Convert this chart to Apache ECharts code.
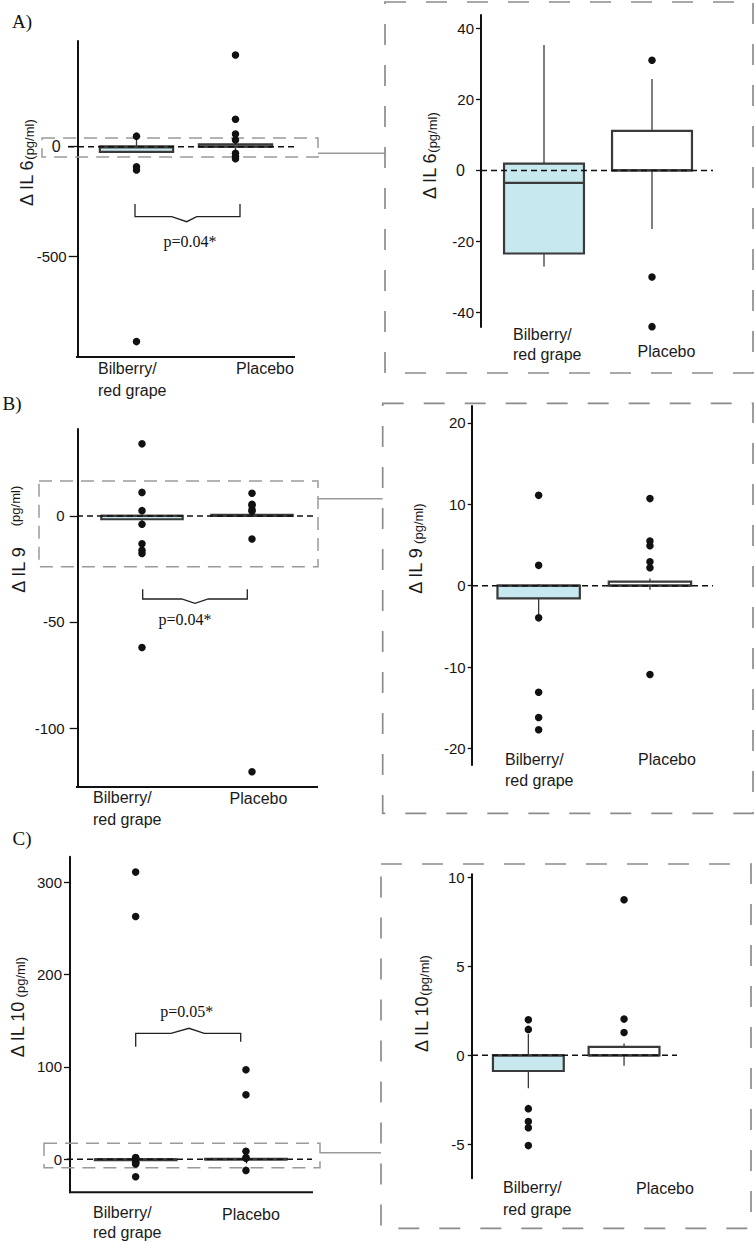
<!DOCTYPE html>
<html><head><meta charset="utf-8">
<script src="https://cdn.jsdelivr.net/npm/echarts@6/dist/echarts.min.js"></script>
<style>html,body{margin:0;padding:0;background:#fff}#c{width:755px;height:1241px}</style>
</head><body><div id="c"></div>
<script>
// ---------- data ----------
const categories = ['Bilberry/\nred grape', 'Placebo'];
// box statistics per group: [min, Q1, median, Q3, max]
const il6Box  = [[-27.1, -23.4, -3.5, 1.9, 35.3], [-16.5, 0, 0, 11.1, 25.7]];
const il9Box  = [[-3.6, -1.55, 0, 0, 0.2], [-0.5, 0, 0, 0.5, 0.9]];
const il10Box = [[-1.85, -0.88, 0, 0, 1.2], [-0.58, 0, 0, 0.48, 0.67]];
// outliers per group
const il6OutBilberry  = [48, -91, -106, -886];
const il6OutPlacebo   = [417, 125, 58, 31, -30, -44, -55];
const il9OutBilberry  = [34, 11.1, 2.5, -3.95, -13.1, -16.2, -17.7, -62];
const il9OutPlacebo   = [10.7, 5.5, 4.9, 2.95, 2.2, -10.9, -120.6];
const il10OutBilberry = [311, 263, 2.0, 1.46, -3.0, -3.73, -4.07, -5.08, -18.8];
const il10OutPlacebo  = [97, 70, 8.76, 2.04, 1.29, -12];
// tick labels
const il6FullTicks  = [0, -500];
const il6ZoomTicks  = [40, 20, 0, -20, -40];
const il9FullTicks  = [0, -50, -100];
const il9ZoomTicks  = [20, 10, 0, -10, -20];
const il10FullTicks = [300, 200, 100, 0];
const il10ZoomTicks = [10, 5, 0, -5];
// texts
const panelLetters = ['A)', 'B)', 'C)'];
const yNames = ['\u0394 IL 6', '\u0394 IL 9', '\u0394 IL 10'];
const yUnit = '(pg/ml)';
const pValues = ['p=0.04*', 'p=0.04*', 'p=0.05*'];

// ---------- layout / style ----------
const SANS = "'Liberation Sans', Arial, Helvetica, sans-serif";
const SERIF = "'Liberation Serif', 'Times New Roman', serif";
const fills = ['#c6e8ee', '#ffffff'];
const INK = '#111';

const panels = [
  { box: il6Box, out: [il6OutBilberry, il6OutPlacebo], ticks: il6FullTicks, min: -956, max: 480.5,
    grid: {left: 87, top: 41, width: 198, height: 316}, offset: 9.3, tickLen: 9, margin: 11, zeroPad: 6,
    zeroLine: [68, 295], baseLine: [77, 295], xTicks: false,
    bil: {x: 98, y: 379, lh: 22}, pla: {x: 265, y: 368},
    name: {x: 26.5, y: 163, mode: 'sub'} },
  { box: il6Box, out: [il6OutBilberry, il6OutPlacebo], ticks: il6ZoomTicks, min: -44.1, max: 43.75,
    grid: {left: 490, top: 15, width: 216, height: 312}, offset: 9, tickLen: 5, margin: 7, zeroPad: 9,
    zeroLine: [481, 713], baseLine: null, xTicks: false,
    bil: {x: 513, y: 344, lh: 20}, pla: {x: 666.5, y: 351},
    name: {x: 430, y: 156, mode: 'sub'} },
  { box: il9Box, out: [il9OutBilberry, il9OutPlacebo], ticks: il9FullTicks, min: -127.8, max: 41,
    grid: {left: 87, top: 429, width: 220, height: 358}, offset: 9.3, tickLen: 8, margin: 13, zeroPad: 0,
    zeroLine: [77, 317], baseLine: [77, 318], xTicks: false,
    bil: {x: 93, y: 808, lh: 22}, pla: {x: 258.5, y: 798},
    name: {x: 19, y: 570, subX: 15, subY: 506, mode: 'split'} },
  { box: il9Box, out: [il9OutBilberry, il9OutPlacebo], ticks: il9ZoomTicks, min: -22.03, max: 22.08,
    grid: {left: 483, top: 406, width: 222.6, height: 359}, offset: 11.3, tickLen: 4, margin: 6, zeroPad: 0,
    zeroLine: [472, 713], baseLine: null, xTicks: false,
    bil: {x: 505, y: 769.5, lh: 21}, pla: {x: 667, y: 759.5},
    name: {x: 416, y: 549, mode: 'sub', gap: true} },
  { box: il10Box, out: [il10OutBilberry, il10OutPlacebo], ticks: il10FullTicks, min: -35.7, max: 327.7,
    grid: {left: 80.5, top: 856.7, width: 220.6, height: 335.6}, offset: 10.5, tickLen: 6, margin: 8, zeroPad: 0,
    zeroLine: [67, 312], baseLine: [70, 313], xTicks: true,
    bil: {x: 93, y: 1222, lh: 20}, pla: {x: 251, y: 1214},
    name: {x: 17.5, y: 1007.5, mode: 'sub', gap: true} },
  { box: il10Box, out: [il10OutBilberry, il10OutPlacebo], ticks: il10ZoomTicks, min: -6.92, max: 10.19,
    grid: {left: 480.5, top: 874.3, width: 191.4, height: 304}, offset: 8.8, tickLen: 4, margin: 7, zeroPad: 0,
    zeroLine: [472, 677], baseLine: null, xTicks: false,
    bil: {x: 503, y: 1198, lh: 22}, pla: {x: 665, y: 1188},
    name: {x: 421.5, y: 1004, mode: 'sub'} }
];

const rows = [
  { letter: {x: 22, y: 21}, zoomRect: {x1: 42, x2: 318, vTop: 40, vBot: -47}, connector: {x1: 318, x2: 385, y: 153.3},
    frame: {x: 385, y: 2, w: 368, h: 371},
    bracket: [[135,204],[135,216.7],[171.7,216.7],[186.7,221.7],[196.7,216.7],[240,216.7],[240,204]],
    pText: {x: 190, y: 241.7} },
  { letter: {x: 12, y: 403}, zoomRect: {x1: 39, x2: 318, vTop: 16.5, vBot: -24}, connector: {x1: 318, x2: 382.7, y: 498.7},
    frame: {x: 382.7, y: 403.3, w: 370.3, h: 410},
    bracket: [[142.7,589.3],[142.7,599],[181.7,599],[195,603.3],[208.3,599],[247.3,599],[247.3,589.3]],
    pText: {x: 185, y: 619.3} },
  { letter: {x: 22, y: 838}, zoomRect: {x1: 44, x2: 320, vTop: 17.3, vBot: -9.1}, connector: {x1: 320, x2: 381, y: 1152.7},
    frame: {x: 381, y: 864, w: 370, h: 364.3},
    bracket: [[135.7,1046.7],[135.7,1033.3],[171,1033.3],[189,1028.3],[204.3,1033.3],[240.7,1033.3],[240.7,1041.7]],
    pText: {x: 186.7, y: 1011.7} }
];

// ---------- chart ----------
const chart = echarts.init(document.getElementById('c'), null, {renderer: 'svg', width: 755, height: 1241});

function boxRenderer(params, api) {
  const c = api.value(0);
  const pMin = api.coord([c, api.value(1)]);
  const pQ1 = api.coord([c, api.value(2)]);
  const pMed = api.coord([c, api.value(3)]);
  const pQ3 = api.coord([c, api.value(4)]);
  const pMax = api.coord([c, api.value(5)]);
  const w = api.size([1, 0])[0] * 0.74;
  const x = pMin[0];
  const stroke = '#3a3a3a';
  return { type: 'group', children: [
    {type: 'line', shape: {x1: x, y1: pQ3[1], x2: x, y2: pMax[1]}, style: {stroke, lineWidth: 1.3}},
    {type: 'line', shape: {x1: x, y1: pQ1[1], x2: x, y2: pMin[1]}, style: {stroke, lineWidth: 1.3}},
    {type: 'rect', shape: {x: x - w / 2, y: pQ3[1], width: w, height: Math.max(pQ1[1] - pQ3[1], 0.5)},
      style: {fill: fills[params.dataIndex], stroke, lineWidth: 2.2}},
    {type: 'line', shape: {x1: x - w / 2, y1: pMed[1], x2: x + w / 2, y2: pMed[1]}, style: {stroke, lineWidth: 2.2}}
  ]};
}

const option = { animation: false, backgroundColor: '#fff', grid: [], xAxis: [], yAxis: [], series: [] };
panels.forEach((p, i) => {
  option.grid.push(Object.assign({containLabel: false, outerBoundsMode: 'none'}, p.grid));
  option.xAxis.push({
    type: 'category', gridIndex: i, data: categories, boundaryGap: true,
    axisLine: {show: false}, axisLabel: {show: false}, splitLine: {show: false},
    axisTick: {show: p.xTicks, alignWithLabel: true, length: 4, lineStyle: {color: INK, width: 1.3}}
  });
  option.yAxis.push({
    type: 'value', gridIndex: i, min: p.min, max: p.max, offset: p.offset,
    splitLine: {show: false},
    axisLine: {show: true, lineStyle: {color: INK, width: 2}},
    axisTick: {show: true, customValues: p.ticks, length: p.tickLen, lineStyle: {color: INK, width: 1.3}},
    axisLabel: {
      customValues: p.ticks, margin: p.margin, fontSize: 15, color: '#151515', fontFamily: SANS,
      formatter: v => (v === 0 && p.zeroPad) ? '{z|0}' : String(v),
      rich: {z: {fontSize: 16, color: '#151515', fontFamily: SANS, padding: [0, p.zeroPad, 0, 0]}}
    }
  });
  option.series.push({
    type: 'custom', xAxisIndex: i, yAxisIndex: i, z: 2, clip: false,
    data: p.box.map((b, k) => [k].concat(b)),
    encode: {x: 0, y: [1, 2, 3, 4, 5]},
    renderItem: boxRenderer
  });
  option.series.push({
    type: 'scatter', xAxisIndex: i, yAxisIndex: i, z: 10, clip: true, silent: true,
    symbolSize: 7.5, itemStyle: {color: INK, opacity: 1},
    data: p.out[0].map(v => [0, v]).concat(p.out[1].map(v => [1, v]))
  });
});
chart.setOption(option);

// ---------- annotations ----------
const g = [];
const txt = (x, y, text, style, extra) => g.push(Object.assign({type: 'text', x, y, z: 20,
  style: Object.assign({text, fill: INK}, style)}, extra || {}));

panels.forEach((p, i) => {
  const y0 = chart.convertToPixel({yAxisIndex: i}, 0);
  g.push({type: 'line', z: 5, shape: {x1: p.zeroLine[0], y1: y0, x2: p.zeroLine[1], y2: y0},
    style: {stroke: INK, lineWidth: 1.5, lineDash: [6, 4]}});
  if (p.baseLine) {
    const yb = p.grid.top + p.grid.height;
    g.push({type: 'line', z: 5, shape: {x1: p.baseLine[0] - 1, y1: yb, x2: p.baseLine[1], y2: yb},
      style: {stroke: INK, lineWidth: 2}});
  }
  // category labels
  txt(p.bil.x, p.bil.y, categories[0], {font: '16px ' + SANS, fill: '#1a1a1a', lineHeight: p.bil.lh,
    align: 'left', textAlign: 'left', verticalAlign: 'middle', textVerticalAlign: 'middle'});
  txt(p.pla.x, p.pla.y, categories[1], {font: '16px ' + SANS, fill: '#1a1a1a',
    align: 'center', textAlign: 'center', verticalAlign: 'middle', textVerticalAlign: 'middle'});
  // y name
  const ni = Math.floor(i / 2);
  const rot = {rotation: Math.PI / 2};
  const mid = {align: 'center', textAlign: 'center', verticalAlign: 'middle', textVerticalAlign: 'middle'};
  if (p.name.mode === 'split') {
    txt(p.name.x, p.name.y, yNames[ni], Object.assign({font: '18px ' + SANS, fill: '#1a1a1a'}, mid), rot);
    txt(p.name.subX, p.name.subY, yUnit, Object.assign({font: '13px ' + SANS, fill: '#1a1a1a'}, mid), rot);
  } else {
    txt(p.name.x, p.name.y, '{m|' + yNames[ni] + '}{s|' + (p.name.gap ? ' ' : '') + yUnit + '}',
      Object.assign({rich: {
        m: {fontSize: 18, fontFamily: SANS, fill: '#1a1a1a', color: '#1a1a1a'},
        s: {fontSize: 13, fontFamily: SANS, fill: '#1a1a1a', color: '#1a1a1a', verticalAlign: 'bottom'}
      }}, mid), rot);
  }
});

rows.forEach((r, k) => {
  const li = k * 2;
  txt(r.letter.x, r.letter.y, panelLetters[k], {font: '19px ' + SERIF,
    align: 'center', textAlign: 'center', verticalAlign: 'middle', textVerticalAlign: 'middle'});
  const yt = chart.convertToPixel({yAxisIndex: li}, r.zoomRect.vTop);
  const yb = chart.convertToPixel({yAxisIndex: li}, r.zoomRect.vBot);
  g.push({type: 'rect', z: 4, shape: {x: r.zoomRect.x1, y: yt, width: r.zoomRect.x2 - r.zoomRect.x1, height: yb - yt},
    style: {fill: 'none', stroke: '#9a9a9a', lineWidth: 1.5, lineDash: [13, 8]}});
  g.push({type: 'line', z: 4, shape: {x1: r.connector.x1, y1: r.connector.y, x2: r.connector.x2, y2: r.connector.y},
    style: {stroke: '#9a9a9a', lineWidth: 1.5}});
  g.push({type: 'rect', z: 4, shape: {x: r.frame.x, y: r.frame.y, width: r.frame.w, height: r.frame.h},
    style: {fill: 'none', stroke: '#8c8c8c', lineWidth: 1.7, lineDash: [21, 20]}});
  g.push({type: 'polyline', z: 6, shape: {points: r.bracket},
    style: {fill: 'none', stroke: '#222', lineWidth: 1.3}});
  txt(r.pText.x, r.pText.y, pValues[k], {font: '16px ' + SERIF,
    align: 'center', textAlign: 'center', verticalAlign: 'middle', textVerticalAlign: 'middle'});
});

chart.setOption({graphic: {elements: g}});
</script>
</body></html>
